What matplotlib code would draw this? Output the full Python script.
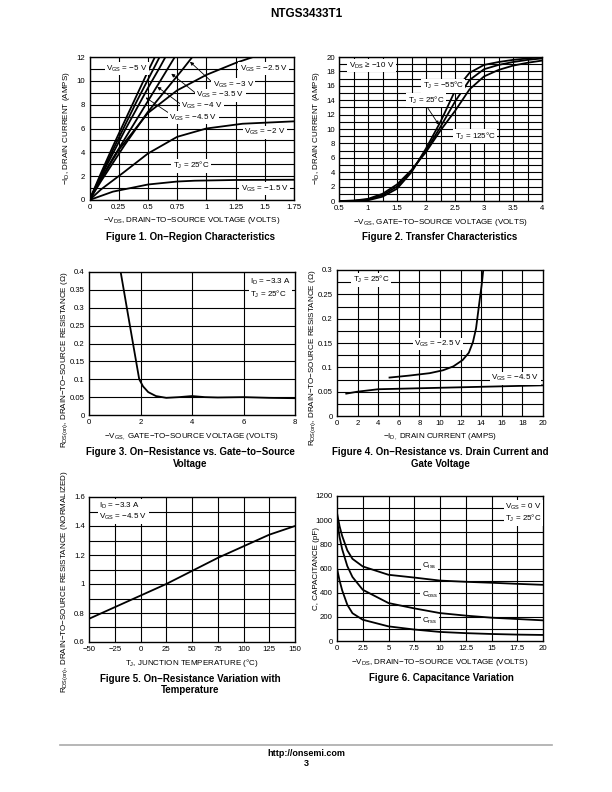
import numpy as np
import matplotlib
matplotlib.use("Agg")
import matplotlib.pyplot as plt

plt.rcParams['font.family'] = ['Liberation Sans', 'DejaVu Sans']
plt.rcParams['mathtext.fontset'] = 'custom'
plt.rcParams['mathtext.rm'] = 'Liberation Sans'
plt.rcParams['mathtext.default'] = 'regular'

W, H = 612, 792

# ---- Figure 1: on-region characteristics ----
f1_vgs5_x = [0, 0.1, 0.2, 0.3, 0.4, 0.5, 0.56]
f1_vgs5_y = [0, 2.3, 4.5, 6.6, 8.7, 10.8, 12.0]
f1_vgs45_x = [0, 0.1, 0.2, 0.3, 0.4, 0.5, 0.6]
f1_vgs45_y = [0, 2.1, 4.2, 6.2, 8.2, 10.1, 12.0]
f1_vgs4_x = [0, 0.1, 0.2, 0.3, 0.4, 0.5, 0.6, 0.65]
f1_vgs4_y = [0, 2.0, 3.9, 5.8, 7.6, 9.4, 11.1, 12.0]
f1_vgs35_x = [0, 0.1, 0.2, 0.3, 0.4, 0.5, 0.6, 0.73]
f1_vgs35_y = [0, 1.8, 3.5, 5.1, 6.7, 8.3, 9.9, 12.0]
f1_vgs3_x = [0, 0.1, 0.2, 0.3, 0.4, 0.5, 0.6, 0.7, 0.8, 0.88]
f1_vgs3_y = [0, 1.6, 3.1, 4.6, 6.0, 7.4, 8.6, 9.8, 11.0, 12.0]
f1_vgs25_x = [0, 0.1, 0.25, 0.5, 0.75, 1.0, 1.25, 1.4]
f1_vgs25_y = [0, 1.8, 4.2, 7.3, 9.2, 10.5, 11.5, 12.0]
f1_vgs2_x = [0, 0.1, 0.29, 0.5, 0.75, 1.0, 1.31, 1.75]
f1_vgs2_y = [0, 0.9, 2.3, 3.9, 5.3, 6.0, 6.4, 6.6]
f1_vgs15_x = [0, 0.2, 0.5, 0.75, 0.9, 1.25, 1.75]
f1_vgs15_y = [0, 0.7, 1.3, 1.55, 1.62, 1.68, 1.7]

# ---- Figure 2: transfer characteristics ----
f2_vgs = [0.5, 0.75, 1.0, 1.25, 1.5, 1.75, 2.0, 2.25, 2.5, 2.75, 3.0, 3.25, 3.5, 3.75, 4.0]
f2_id_m55 = [0, 0.02, 0.1, 0.6, 1.7, 4.0, 7.3, 11.0, 15.3, 17.8, 18.9, 19.3, 19.6, 19.8, 20.0]
f2_id_25 = [0, 0.03, 0.2, 0.8, 2.0, 4.2, 7.0, 10.3, 13.8, 16.8, 18.3, 18.9, 19.3, 19.6, 19.8]
f2_id_125 = [0, 0.05, 0.3, 1.0, 2.3, 4.3, 6.8, 9.8, 12.5, 15.5, 17.3, 18.2, 18.8, 19.2, 19.5]

# ---- Figure 3: on-resistance vs gate-source voltage ----
f3_vgs = [1.23, 1.5, 1.75, 1.95, 2.1, 2.3, 2.6, 3.0, 3.5, 4.0, 4.5, 5.0, 6.0, 7.0, 8.0]
f3_rds = [0.4, 0.287, 0.183, 0.1, 0.08, 0.064, 0.053, 0.048, 0.05, 0.053, 0.05, 0.049, 0.05, 0.048, 0.047]

# ---- Figure 4: on-resistance vs drain current ----
f4_id_25 = [5.1, 7.0, 9.0, 10.3, 11.3, 12.2, 12.8, 13.2, 13.5, 13.85, 14.05, 14.2]
f4_rds_25 = [0.079, 0.083, 0.088, 0.094, 0.102, 0.115, 0.13, 0.152, 0.18, 0.238, 0.27, 0.3]
f4_id_45 = [0.9, 2, 4, 6, 10, 14, 20]
f4_rds_45 = [0.046, 0.05, 0.055, 0.056, 0.058, 0.06, 0.063]

# ---- Figure 5: on-resistance vs temperature ----
f5_tj = [-50, -25, 0, 25, 50, 75, 100, 125, 150]
f5_rn = [0.76, 0.84, 0.92, 1.0, 1.09, 1.18, 1.26, 1.34, 1.40]

# ---- Figure 6: capacitance ----
f6_vds = [0, 0.25, 0.5, 1.0, 1.5, 2.5, 5, 7.5, 10, 12.5, 15, 17.5, 20]
f6_ciss = [1060, 950, 870, 750, 680, 617, 548, 525, 500, 490, 482, 473, 465]
f6_coss = [1000, 860, 760, 620, 530, 424, 314, 270, 231, 210, 193, 182, 171]
f6_crss = [600, 500, 420, 300, 230, 176, 121, 95, 75, 65, 58, 53, 50]


def px_axes(fig, x0, y0, x1, y1):
    return fig.add_axes([x0 / W, 1 - y1 / H, (x1 - x0) / W, (y1 - y0) / H])


def style(ax, xlim, ylim, xmaj, ymaj, xgrid, ygrid, xlabels, ylabels):
    ax.set_xlim(*xlim)
    ax.set_ylim(*ylim)
    ax.set_xticks(xmaj)
    ax.set_xticklabels(xlabels)
    ax.set_yticks(ymaj)
    ax.set_yticklabels(ylabels)
    for g in xgrid:
        ax.axvline(g, color='black', lw=0.8, zorder=1)
    for g in ygrid:
        ax.axhline(g, color='black', lw=0.8, zorder=1)
    ax.tick_params(length=0, labelsize=5.6, pad=3)
    for s in ax.spines.values():
        s.set_linewidth(1.0)


def label(ax, x, y, s, ha='center', size=5.8):
    ax.text(x, y, s, ha=ha, va='center', fontsize=size, zorder=5,
            bbox=dict(facecolor='white', edgecolor='none', pad=1.0))


def arrow(ax, x0, y0, x1, y1):
    ax.annotate('', xy=(x1, y1), xytext=(x0, y0), zorder=4,
                arrowprops=dict(arrowstyle='-|>', lw=0.6, color='black',
                                mutation_scale=5, shrinkA=0, shrinkB=0))


def ftext(x, y, s, size=5.8, rot=0, weight='normal', ha='center'):
    fig.text(x / W, 1 - y / H, s, fontsize=size, rotation=rot, weight=weight,
             ha=ha, va='center')


fig = plt.figure(figsize=(W / 100, H / 100), dpi=100)
lw = 1.3

# Figure 1
ax1 = px_axes(fig, 89.5, 57, 294, 200)
xt = [0, 0.25, 0.5, 0.75, 1, 1.25, 1.5, 1.75]
style(ax1, (0, 1.75), (0, 12), xt, range(0, 13, 2), xt, range(0, 13),
      ['0', '0.25', '0.5', '0.75', '1', '1.25', '1.5', '1.75'],
      [str(v) for v in range(0, 13, 2)])
for xs, ys in [(f1_vgs5_x, f1_vgs5_y), (f1_vgs45_x, f1_vgs45_y), (f1_vgs4_x, f1_vgs4_y),
               (f1_vgs35_x, f1_vgs35_y), (f1_vgs3_x, f1_vgs3_y), (f1_vgs25_x, f1_vgs25_y),
               (f1_vgs2_x, f1_vgs2_y), (f1_vgs15_x, f1_vgs15_y)]:
    ax1.plot(xs, ys, color='black', lw=lw, zorder=3, clip_on=True)
label(ax1, 0.32, 11.0, 'V$_{GS}$ = −5 V')
label(ax1, 1.49, 11.0, 'V$_{GS}$ = −2.5 V')
label(ax1, 1.23, 9.7, 'V$_{GS}$ = −3 V')
label(ax1, 1.12, 8.8, 'V$_{GS}$ = −3.5 V')
label(ax1, 0.96, 7.9, 'V$_{GS}$ = −4 V')
label(ax1, 0.89, 6.9, 'V$_{GS}$ = −4.5 V')
label(ax1, 1.5, 5.7, 'V$_{GS}$ = −2 V')
label(ax1, 0.87, 2.87, 'T$_J$ = 25°C')
label(ax1, 1.5, 0.95, 'V$_{GS}$ = −1.5 V')
arrow(ax1, 1.07, 9.7, 0.86, 11.6)
arrow(ax1, 0.93, 8.8, 0.70, 10.6)
arrow(ax1, 0.80, 7.9, 0.58, 9.5)
arrow(ax1, 0.74, 6.9, 0.48, 8.6)

# Figure 2
ax2 = px_axes(fig, 339, 57, 542, 201)
style(ax2, (0.5, 4), (0, 20), [0.5, 1, 1.5, 2, 2.5, 3, 3.5, 4], range(0, 21, 2),
      np.arange(0.5, 4.01, 0.25), range(0, 21),
      ['0.5', '1', '1.5', '2', '2.5', '3', '3.5', '4'],
      [str(v) for v in range(0, 21, 2)])
for ys in [f2_id_m55, f2_id_25, f2_id_125]:
    ax2.plot(f2_vgs, ys, color='black', lw=lw, zorder=3)
label(ax2, 1.06, 18.8, 'V$_{DS}$ ≥ −10 V')
label(ax2, 2.3, 16.0, 'T$_J$ = −55°C')
label(ax2, 2.0, 14.0, 'T$_J$ = 25°C')
label(ax2, 2.85, 9.0, 'T$_J$ = 125°C')
arrow(ax2, 2.0, 13.3, 2.22, 10.6)

# Figure 3
ax3 = px_axes(fig, 89, 272, 295, 415)
style(ax3, (0, 8), (0, 0.4), [0, 2, 4, 6, 8], np.arange(0, 0.401, 0.05),
      [2, 4, 6], np.arange(0.05, 0.4, 0.05),
      ['0', '2', '4', '6', '8'],
      ['0', '0.05', '0.1', '0.15', '0.2', '0.25', '0.3', '0.35', '0.4'])
ax3.plot(f3_vgs, f3_rds, color='black', lw=lw, zorder=3)
label(ax3, 6.25, 0.355, 'I$_D$ = −3.3 A\nT$_J$ = 25°C', ha='left')

# Figure 4
ax4 = px_axes(fig, 337, 270, 543, 416)
style(ax4, (0, 20), (0, 0.3), range(0, 21, 2), np.arange(0, 0.301, 0.05),
      range(2, 20, 2), np.arange(0.025, 0.3, 0.025),
      [str(v) for v in range(0, 21, 2)],
      ['0', '0.05', '0.1', '0.15', '0.2', '0.25', '0.3'])
ax4.plot(f4_id_25, f4_rds_25, color='black', lw=lw, zorder=3, clip_on=True)
ax4.plot(f4_id_45, f4_rds_45, color='black', lw=lw, zorder=3)
label(ax4, 3.3, 0.28, 'T$_J$ = 25°C')
label(ax4, 9.8, 0.148, 'V$_{GS}$ = −2.5 V')
label(ax4, 17.3, 0.078, 'V$_{GS}$ = −4.5 V')

# Figure 5
ax5 = px_axes(fig, 89, 497, 295, 642)
style(ax5, (-50, 150), (0.6, 1.6), range(-50, 151, 25), np.arange(0.6, 1.61, 0.2),
      range(-25, 150, 25), np.arange(0.7, 1.6, 0.1),
      ['−50', '−25', '0', '25', '50', '75', '100', '125', '150'],
      ['0.6', '0.8', '1', '1.2', '1.4', '1.6'])
ax5.plot(f5_tj, f5_rn, color='black', lw=lw, zorder=3)
label(ax5, -40, 1.5, 'I$_D$ = −3.3 A\nV$_{GS}$ = −4.5 V', ha='left')

# Figure 6
ax6 = px_axes(fig, 337, 496, 543, 641)
style(ax6, (0, 20), (0, 1200), np.arange(0, 20.01, 2.5), range(0, 1201, 200),
      np.arange(2.5, 20, 2.5), range(100, 1200, 100),
      ['0', '2.5', '5', '7.5', '10', '12.5', '15', '17.5', '20'],
      [str(v) for v in range(0, 1201, 200)])
for ys in [f6_ciss, f6_coss, f6_crss]:
    ax6.plot(f6_vds, ys, color='black', lw=lw, zorder=3)
label(ax6, 16.3, 1060, 'V$_{GS}$ = 0 V\nT$_J$ = 25°C', ha='left')
label(ax6, 9.0, 620, 'C$_{iss}$')
label(ax6, 9.0, 385, 'C$_{oss}$')
label(ax6, 9.0, 170, 'C$_{rss}$')

# axis labels
ftext(192, 221, '−V$_{DS}$, DRAIN−TO−SOURCE VOLTAGE (VOLTS)')
ftext(440, 222, '−V$_{GS}$, GATE−TO−SOURCE VOLTAGE (VOLTS)')
ftext(192, 437, '−V$_{GS,}$ GATE−TO−SOURCE VOLTAGE (VOLTS)')
ftext(440, 437, '−I$_{D,}$ DRAIN CURRENT (AMPS)')
ftext(192, 663, 'T$_J$, JUNCTION TEMPERATURE (°C)')
ftext(440, 663, '−V$_{DS}$, DRAIN−TO−SOURCE VOLTAGE (VOLTS)')
ftext(67, 128, '−I$_D$, DRAIN CURRENT (AMPS)', rot=90)
ftext(316, 128, '−I$_D$, DRAIN CURRENT (AMPS)', rot=90)
ftext(65, 360, 'R$_{DS(on)}$, DRAIN−TO−SOURCE RESISTANCE (Ω)', rot=90)
ftext(313, 358, 'R$_{DS(on)}$, DRAIN−TO−SOURCE RESISTANCE (Ω)', rot=90)
ftext(65, 582, 'R$_{DS(on)}$, DRAIN−TO−SOURCE RESISTANCE (NORMALIZED)', rot=90)
ftext(316, 568, 'C, CAPACITANCE (pF)', rot=90)

# captions
cap = 7
ftext(190, 237, 'Figure 1. On−Region Characteristics', cap, weight='bold')
ftext(440, 237, 'Figure 2. Transfer Characteristics', cap, weight='bold')
ftext(190, 452, 'Figure 3. On−Resistance vs. Gate−to−Source', cap, weight='bold')
ftext(190, 464, 'Voltage', cap, weight='bold')
ftext(440, 452, 'Figure 4. On−Resistance vs. Drain Current and', cap, weight='bold')
ftext(440, 464, 'Gate Voltage', cap, weight='bold')
ftext(190, 679, 'Figure 5. On−Resistance Variation with', cap, weight='bold')
ftext(190, 690, 'Temperature', cap, weight='bold')
ftext(441, 678, 'Figure 6. Capacitance Variation', cap, weight='bold')

# page header / footer
ftext(306, 14, 'NTGS3433T1', 8.5, weight='bold')
fig.add_artist(plt.Line2D([60 / W, 552 / W], [1 - 745 / H, 1 - 745 / H],
                          color='#aaaaaa', lw=1.2))
ftext(306, 753, 'http://onsemi.com', 6.5, weight='bold')
ftext(306, 764, '3', 6.5, weight='bold')

fig.savefig('out.png', dpi=100)
